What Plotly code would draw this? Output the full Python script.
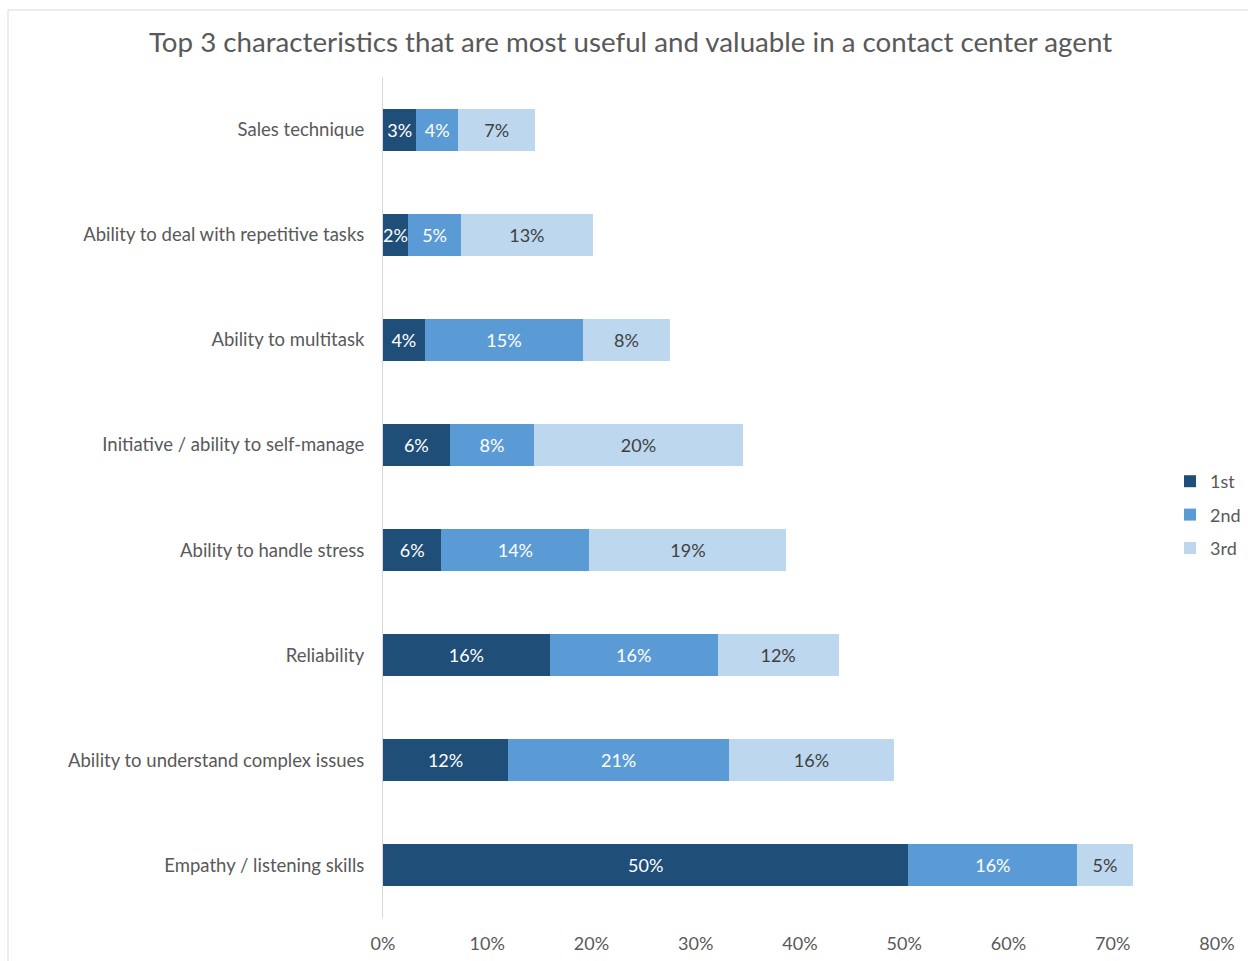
import plotly.graph_objects as go

categories = [
    "Empathy / listening skills",
    "Ability to understand complex issues",
    "Reliability",
    "Ability to handle stress",
    "Initiative / ability to self-manage",
    "Ability to multitask",
    "Ability to deal with repetitive tasks",
    "Sales technique",
]
first = [0.504, 0.120, 0.160, 0.056, 0.064, 0.040, 0.024, 0.032]
second = [0.162, 0.212, 0.161, 0.142, 0.081, 0.152, 0.051, 0.040]
third = [0.053, 0.158, 0.116, 0.189, 0.200, 0.083, 0.126, 0.074]
series_names = ["1st", "2nd", "3rd"]
colors = ["#1f4e79", "#5b9bd5", "#bdd7ee"]
text_colors = ["white", "white", "#404040"]

FONT = "Lato, 'Open Sans', sans-serif"
W, H = 1248, 961
L, R, T, B = 383, 31, 77, 43
pw, ph = W - L - R, H - T - B

fig = go.Figure()
for name, vals, c, tc in zip(series_names, [first, second, third], colors, text_colors):
    fig.add_trace(go.Bar(
        y=categories, x=vals, name=name, orientation="h",
        marker=dict(color=c, line=dict(width=0)),
        texttemplate="%{x:.0%}", textposition="inside", insidetextanchor="middle",
        textangle=0,
        textfont=dict(color=tc, size=18, family=FONT),
        constraintext="none", legendgroup=name,
        hoverinfo="skip",
    ))

fig.update_layout(
    width=W, height=H,
    barmode="stack", bargap=0.6,
    margin=dict(l=L, r=R, t=T, b=B, autoexpand=False),
    paper_bgcolor="white", plot_bgcolor="white",
    font=dict(family=FONT, color="#595959", size=18),
    uniformtext=dict(minsize=18, mode="show"),
    title=dict(text="Top 3 characteristics that are most useful and valuable in a contact center agent",
               x=630.5 / W, xanchor="center", y=1 - 42 / H, yanchor="middle",
               font=dict(size=27.7, color="#595959", family=FONT)),
    xaxis=dict(range=[0, 0.8], tickvals=[i / 10 for i in range(9)], tickformat=".0%",
               showgrid=False, zeroline=False, showline=False, ticks="",
               ticklabelstandoff=13, tickfont=dict(size=18, color="#595959")),
    yaxis=dict(showgrid=False, zeroline=False, showline=True, linecolor="#d9d9d9", linewidth=1,
               ticks="", ticklabelstandoff=14, tickfont=dict(size=18.5, color="#595959"),
               categoryorder="array", categoryarray=categories),
    legend=dict(x=(1170 - L) / pw, xanchor="left", y=(H - B - 515) / ph, yanchor="middle",
                traceorder="grouped", tracegroupgap=7, font=dict(size=18, color="#595959"),
                bgcolor="rgba(0,0,0,0)"),
    shapes=[dict(type="rect", xref="paper", yref="paper",
                 x0=(8 - L) / pw, x1=(W + 20 - L) / pw,
                 y0=(H - B - (H + 20)) / ph, y1=(H - B - 10) / ph,
                 line=dict(color="#d9d9d9", width=1), fillcolor="rgba(0,0,0,0)", layer="below")],
)

fig.write_html("out.html")
